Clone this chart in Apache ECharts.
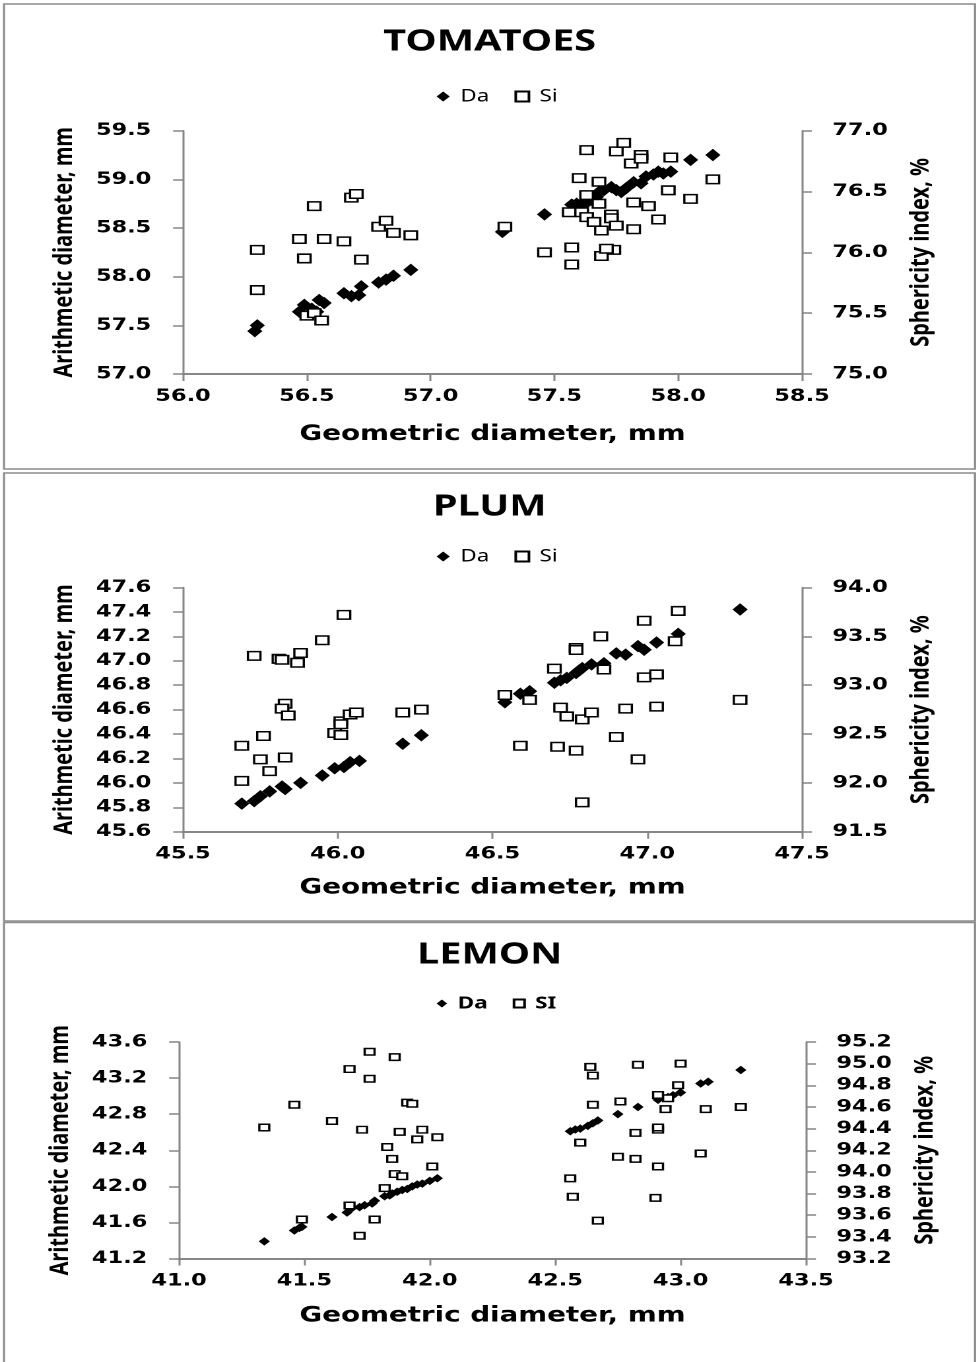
<!DOCTYPE html>
<html>
<head>
<meta charset="utf-8">
<script src="https://cdn.jsdelivr.net/npm/echarts@6/dist/echarts.min.js"></script>
<style>
  html, body { margin: 0; padding: 0; background: #fff; }
  #c { position: absolute; left: 0; top: 0; height: 1362px; transform-origin: 0 0; }
</style>
</head>
<body>
<div id="c"></div>
<script>
// ---------------- DATA ----------------
// TOMATOES
const tomDaX = [56.30,56.29,56.47,56.49,56.52,56.55,56.57,56.54,56.65,56.68,56.71,56.72,56.79,56.82,56.85,56.92,
  57.29,57.46,57.57,57.59,57.61,57.63,57.65,57.67,57.68,57.70,57.73,57.75,57.77,57.79,57.82,57.85,57.87,57.90,57.92,57.94,57.97,58.05,58.14];
const tomDaY = [57.50,57.44,57.64,57.71,57.67,57.76,57.73,57.64,57.83,57.80,57.81,57.90,57.94,57.97,58.01,58.07,
  58.46,58.64,58.74,58.75,58.74,58.76,58.79,58.82,58.87,58.89,58.92,58.89,58.87,58.91,58.97,58.96,59.03,59.05,59.08,59.06,59.08,59.20,59.25];
const tomSiX = [56.30,56.30,56.47,56.49,56.53,56.57,56.65,56.68,56.70,56.72,56.79,56.82,56.85,56.92,56.50,56.53,56.56,
  57.30,57.46,57.57,57.57,57.69,57.74,57.71,57.63,57.60,57.68,57.63,57.68,57.56,57.61,57.63,57.66,57.69,57.73,57.73,57.75,
  57.82,57.82,57.88,57.92,57.75,57.78,57.81,57.85,57.85,57.97,57.96,58.05,58.14];
const tomSiY = [76.02,75.69,76.11,75.95,76.38,76.11,76.09,76.45,76.48,75.94,76.21,76.26,76.16,76.14,75.48,75.50,75.44,
  76.21,76.00,76.04,75.90,75.97,76.02,76.03,76.84,76.61,76.58,76.47,76.40,76.33,76.33,76.29,76.25,76.18,76.31,76.28,76.22,
  76.19,76.41,76.38,76.27,76.83,76.90,76.73,76.80,76.77,76.78,76.51,76.44,76.60];

// PLUM
const plumDaX = [45.69,45.73,45.75,45.78,45.82,45.83,45.88,45.95,45.99,46.02,46.04,46.07,46.21,46.27,
  46.54,46.59,46.62,46.70,46.72,46.74,46.77,46.78,46.79,46.82,46.86,46.90,46.93,46.97,46.99,47.03,47.10,47.30];
const plumDaY = [45.83,45.85,45.89,45.93,45.97,45.95,46.00,46.06,46.12,46.13,46.17,46.18,46.32,46.39,
  46.66,46.73,46.75,46.82,46.84,46.86,46.90,46.92,46.94,46.97,46.98,47.06,47.05,47.12,47.09,47.15,47.22,47.42];
const plumSiX = [46.02,45.95,45.73,45.81,45.82,45.88,45.87,45.83,45.82,45.84,45.76,45.69,45.75,45.83,45.78,45.69,
  46.01,46.01,45.99,46.01,46.04,46.06,46.21,46.27,
  47.10,46.99,46.85,46.77,46.77,46.70,46.86,47.09,46.99,47.03,46.54,46.62,47.30,46.72,46.74,46.79,46.82,46.93,47.03,
  46.90,46.59,46.71,46.77,46.97,46.79];
const plumSiY = [93.72,93.46,93.30,93.27,93.26,93.33,93.23,92.81,92.76,92.69,92.48,92.38,92.24,92.26,92.12,92.02,
  92.63,92.60,92.51,92.49,92.70,92.72,92.72,92.75,
  93.76,93.66,93.50,93.38,93.36,93.17,93.16,93.45,93.08,93.11,92.90,92.85,92.85,92.77,92.68,92.65,92.72,92.76,92.78,
  92.47,92.38,92.37,92.33,92.24,91.80];

// LEMON
const lemDaX = [41.34,41.46,41.48,41.49,41.61,41.67,41.69,41.72,41.74,41.77,41.78,41.82,41.84,41.85,41.87,41.89,41.91,41.93,41.95,41.97,42.00,42.03,
  42.56,42.58,42.60,42.63,42.65,42.67,42.75,42.83,42.91,42.93,42.95,42.97,43.00,43.08,43.11,43.24];
const lemDaY = [41.39,41.51,41.54,41.55,41.66,41.71,41.76,41.77,41.79,41.81,41.84,41.89,41.90,41.92,41.94,41.96,41.97,42.00,42.02,42.03,42.06,42.09,
  42.61,42.63,42.64,42.67,42.70,42.73,42.80,42.88,42.96,42.98,42.99,43.01,43.04,43.14,43.16,43.29];
const lemSiX = [41.76,41.86,41.68,41.76,41.46,41.91,41.93,41.61,41.34,41.73,41.88,41.97,41.95,42.03,41.83,41.85,42.01,41.86,41.89,41.82,41.68,41.49,41.78,41.72,
  42.64,42.65,42.83,43.00,42.99,42.91,42.95,42.65,42.76,42.94,43.10,43.24,42.91,42.91,42.82,42.60,43.08,42.75,42.82,42.91,42.56,42.57,42.90,42.67];
const lemSiY = [95.11,95.06,94.95,94.86,94.62,94.64,94.63,94.47,94.41,94.39,94.37,94.39,94.30,94.32,94.23,94.12,94.05,93.98,93.96,93.85,93.69,93.56,93.56,93.41,
  94.97,94.89,94.99,95.00,94.80,94.71,94.68,94.62,94.65,94.58,94.58,94.60,94.39,94.41,94.36,94.27,94.17,94.14,94.12,94.05,93.94,93.77,93.76,93.55];

// axis ranges / tick intervals
const panelTitles = ['TOMATOES', 'PLUM', 'LEMON'];
const siNames = ['Si', 'Si', 'SI'];
const xRanges = [[56.0, 58.5, 0.5], [45.5, 47.5, 0.5], [41.0, 43.5, 0.5]];
const yLeftRanges = [[57.0, 59.5, 0.5], [45.6, 47.6, 0.2], [41.2, 43.6, 0.4]];
const yRightRanges = [[75.0, 77.0, 0.5], [91.5, 94.0, 0.5], [93.2, 95.2, 0.2]];
const xTitle = 'Geometric diameter, mm';
const yLeftTitle = 'Arithmetic diameter, mm';
const yRightTitle = 'Sphericity index, %';

// ---------------- LAYOUT ----------------
const S = 1.32;              // horizontal stretch of the reference picture
const W = 979 / S;
const X = v => v / S;
const dom = document.getElementById('c');
dom.style.width = W + 'px';
dom.style.transform = 'scaleX(' + S + ')';

const zip = (a, b) => a.map((v, i) => [v, b[i]]);
const daX = [tomDaX, plumDaX, lemDaX], daY = [tomDaY, plumDaY, lemDaY];
const siX = [tomSiX, plumSiX, lemSiX], siY = [tomSiY, plumSiY, lemSiY];

const grids = [
  { left: X(183), width: X(619), top: 130.7, height: 243.3 },
  { left: X(183), width: X(619), top: 587.5, height: 244.2 },
  { left: X(179), width: X(627), top: 1042, height: 216.5 }
];
const titleTops = [22, 487, 935];
const legendTops = [83, 543, 990];
const xNameGaps = [50, 46, 47];
const borders = [[4, 4, 971, 465], [4, 473, 971, 448], [4, 922.5, 971, 460]];

const axisGray = '#868686';
const tickFont = { fontFamily: 'DejaVu Sans', fontWeight: 'bold', fontSize: 17, color: '#000' };
const fmt = v => Number(v).toFixed(1);

const option = {
  animation: false,
  backgroundColor: '#fff',
  title: [], legend: [], grid: [], xAxis: [], yAxis: [], series: [], graphic: []
};

for (let i = 0; i < 3; i++) {
  option.grid.push(Object.assign({ containLabel: false }, grids[i]));
  option.title.push({
    text: panelTitles[i], left: 'center', top: titleTops[i],
    textStyle: { fontFamily: 'Noto Sans', fontWeight: 'bold', fontSize: 30, color: '#000' }
  });
  const small = i === 2;
  option.legend.push({
    top: legendTops[i], left: X(430),
    itemWidth: small ? 8 : 10, itemHeight: small ? 8 : 10, itemGap: 19,
    data: ['Da', siNames[i]].map(n => ({ name: n })),
    textStyle: { fontFamily: 'Noto Sans', fontSize: 17, fontWeight: small ? 'bold' : 'normal', color: '#000', padding: [0, 0, 0, 3] },
    selectedMode: false
  });
  const xr = xRanges[i], yl = yLeftRanges[i], yr = yRightRanges[i];
  option.xAxis.push({
    type: 'value', gridIndex: i, min: xr[0], max: xr[1], interval: xr[2],
    name: xTitle, nameLocation: 'middle', nameGap: xNameGaps[i],
    nameTextStyle: { fontFamily: 'DejaVu Sans', fontWeight: 'bold', fontSize: 21, color: '#000' },
    axisLine: { onZero: false, lineStyle: { color: axisGray, width: 2 } },
    axisTick: { show: true, inside: false, length: 7, lineStyle: { color: axisGray, width: 1.5 } },
    axisLabel: Object.assign({ margin: 14, formatter: fmt, showMinLabel: true, showMaxLabel: true }, tickFont),
    splitLine: { show: false }
  });
  const yCommon = {
    type: 'value', gridIndex: i, nameLocation: 'middle', nameRotate: 90,
    nameTextStyle: { fontFamily: 'Noto Sans', fontWeight: 'bold', fontSize: 20, color: '#000' },
    axisLine: { show: true, onZero: false, lineStyle: { color: axisGray, width: 1.5 } },
    axisTick: { show: true, inside: false, length: 7.5, lineStyle: { color: axisGray, width: 1.5 } },
    splitLine: { show: false }
  };
  option.yAxis.push(Object.assign({}, yCommon, {
    position: 'left', min: yl[0], max: yl[1], interval: yl[2],
    name: yLeftTitle, nameGap: 80,
    axisLabel: Object.assign({ margin: 24, formatter: fmt }, tickFont)
  }));
  option.yAxis.push(Object.assign({}, yCommon, {
    position: 'right', min: yr[0], max: yr[1], interval: yr[2],
    name: yRightTitle, nameGap: 80,
    axisLabel: Object.assign({ margin: 23, formatter: fmt }, tickFont)
  }));
  option.series.push({
    name: 'Da', type: 'scatter', xAxisIndex: i, yAxisIndex: 2 * i,
    symbol: 'diamond', symbolSize: small ? [8.5, 8.5] : [11.5, 12.5],
    itemStyle: { color: '#000', opacity: 1 },
    data: zip(daX[i], daY[i]), silent: true, z: 2
  });
  option.series.push({
    name: siNames[i], type: 'scatter', xAxisIndex: i, yAxisIndex: 2 * i + 1,
    symbol: 'rect', symbolSize: small ? [7.5, 6.5] : [9.5, 8.5],
    itemStyle: { color: '#fff', borderColor: '#000', borderWidth: 1.6, opacity: 1 },
    data: zip(siX[i], siY[i]), silent: true, z: 3
  });
  const b = borders[i];
  option.graphic.push({
    type: 'rect', silent: true, z: 100,
    shape: { x: X(b[0]), y: b[1], width: X(b[2]), height: b[3] },
    style: { fill: 'none', stroke: '#8c8c8c', lineWidth: 1.6 }
  });
}

const chart = echarts.init(dom, null, { renderer: 'canvas', devicePixelRatio: 2 });
chart.setOption(option);
</script>
</body>
</html>
